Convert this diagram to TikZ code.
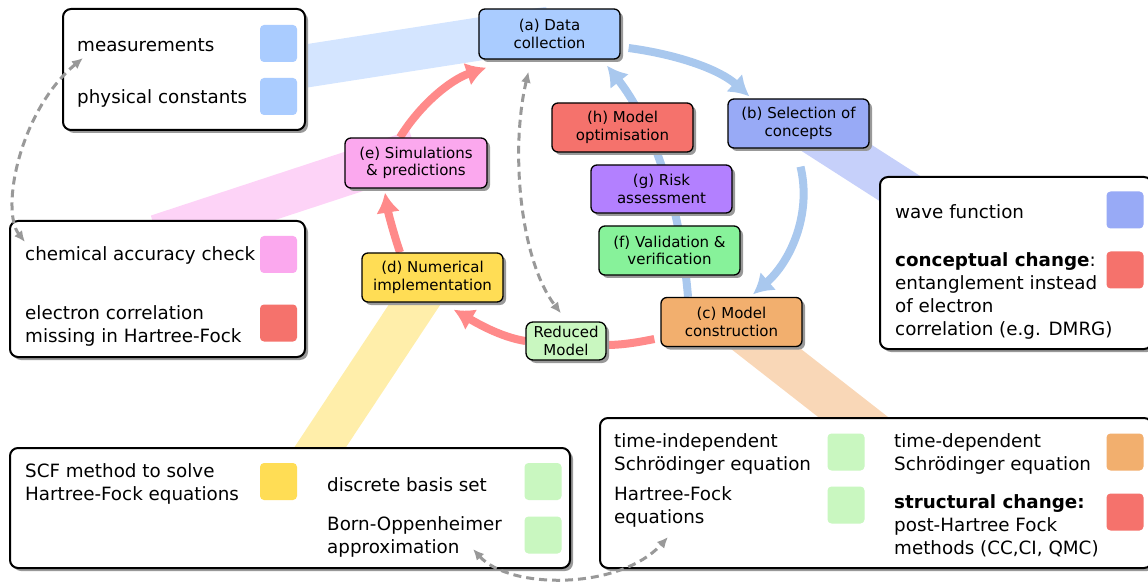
\documentclass[tikz,border=0pt]{standalone}
\usepackage{fontspec}
\setmainfont{DejaVu Sans}
\usetikzlibrary{arrows.meta,calc,shadows,backgrounds}

\definecolor{dataC}{HTML}{AACCFF}
\definecolor{selC}{HTML}{98AAF6}
\definecolor{optC}{HTML}{F5726C}
\definecolor{riskC}{HTML}{B380FF}
\definecolor{valC}{HTML}{87F29A}
\definecolor{consC}{HTML}{F2AF6E}
\definecolor{numC}{HTML}{FFDD55}
\definecolor{simC}{HTML}{FBA8EE}
\definecolor{redC}{HTML}{C9F7C0}
\definecolor{blueArr}{HTML}{A9C8EE}
\definecolor{redArr}{HTML}{FF8A8A}
\definecolor{linkC}{HTML}{999999}

\newcommand\stagefont{\fontsize{15}{17.5}\selectfont}
\newcommand\legfont{\fontsize{18.3}{23}\selectfont}

\begin{document}
\begin{tikzpicture}[x=1pt,y=-1pt,
  shade/.style={drop shadow={shadow xshift=3pt,shadow yshift=-3pt,fill=black!40,opacity=1}},
  stage/.style={draw,line width=1.3pt,rounded corners=6pt,minimum width=141pt,minimum height=49pt,align=center,inner sep=1pt,font=\stagefont,shade},
  legbox/.style={draw,line width=2pt,rounded corners=8pt,fill=white,inner sep=0pt,shade},
  legtext/.style={anchor=west,align=left,inner sep=0pt,font=\legfont,yshift=-2pt},
  swatch/.style={rounded corners=4pt,minimum size=37pt,inner sep=0pt},
  band/.style={line width=43pt},
  cyc/.style={line width=8pt,-{Latex[length=20pt,width=24pt]}},
  link/.style={linkC,line width=3pt,dash pattern=on 8pt off 5pt,{Latex[length=11pt,width=10pt]}-{Latex[length=11pt,width=10pt]}}]
\useasboundingbox (0,0) rectangle (1148,585);

% legend boxes
\node[legbox,minimum width=242pt,minimum height=121pt] (databox) at (184,69.5) {};
\node[legtext] (meas) at (77,43) {measurements};
\node[legtext] (phys) at (77,96) {physical constants};
\node[swatch,fill=dataC] (sqmeas) at (278.5,43.5) {};
\node[swatch,fill=dataC] (sqphys) at (278.5,96.5) {};

\node[legbox,minimum width=295pt,minimum height=136pt] (accbox) at (157.5,289) {};
\node[legtext] (chem) at (25,253) {chemical accuracy check};
\node[legtext] (corr) at (25,324) {electron correlation\\missing in Hartree-Fock};
\node[swatch,fill=simC] (sqchem) at (278.5,254.5) {};
\node[swatch,fill=optC] (sqcorr) at (278.5,323) {};

\node[legbox,minimum width=272pt,minimum height=172pt] (wavebox) at (1016,263) {};
\node[legtext] (wave) at (895,210) {wave function};
\node[legtext] (conc) at (895,294) {\textbf{conceptual change}:\\entanglement instead\\of electron\\correlation (e.g. DMRG)};
\node[swatch,fill=selC] (sqwave) at (1125,210) {};
\node[swatch,fill=optC] (sqconc) at (1125,270) {};

\node[legbox,minimum width=560pt,minimum height=120pt] (numbox) at (290,508) {};
\node[legtext] (scf) at (25,482) {SCF method to solve\\Hartree-Fock equations};
\node[legtext] (disc) at (327,483) {discrete basis set};
\node[legtext] (born) at (327,535) {Born-Oppenheimer\\approximation};
\node[swatch,fill=numC] (sqscf) at (278.5,481.5) {};
\node[swatch,fill=redC] (sqdisc) at (543,481.5) {};
\node[swatch,fill=redC] (sqborn) at (543,535) {};

\node[legbox,minimum width=552pt,minimum height=150pt] (tdbox) at (876,493) {};
\node[legtext] (tind) at (614,452) {time-independent\\Schrödinger equation};
\node[legtext] (hf) at (614,505) {Hartree-Fock\\equations};
\node[legtext] (tdep) at (894,452) {time-dependent\\Schrödinger equation};
\node[legtext] (struct) at (894,524) {\textbf{structural change:}\\post-Hartree Fock\\methods (CC,CI, QMC)};
\node[swatch,fill=redC] (sqtind) at (846,452) {};
\node[swatch,fill=redC] (sqhf) at (846,505) {};
\node[swatch,fill=consC] (sqtdep) at (1125,452) {};
\node[swatch,fill=optC] (sqstruct) at (1125,512) {};

% modelling cycle
\node[stage,fill=dataC,minimum height=50pt] (data) at (549.5,34) {(a) Data\\collection};
\node[stage,fill=selC] (sel) at (798.5,123.5) {(b) Selection of\\concepts};
\node[stage,fill=optC] (opt) at (622.5,127.5) {(h) Model\\optimisation};
\node[stage,fill=riskC,minimum height=48pt] (risk) at (661.5,189) {(g) Risk\\assessment};
\node[stage,fill=valC] (val) at (669.5,250.5) {(f) Validation \&\\verification};
\node[stage,fill=consC] (cons) at (731.5,322) {(c) Model\\construction};
\node[stage,fill=numC] (num) at (432.5,277.5) {(d) Numerical\\implementation};
\node[stage,fill=simC,minimum width=142pt,minimum height=50pt] (sim) at (416,163) {(e) Simulations\\\& predictions};
\node[stage,fill=redC,minimum width=80pt,minimum height=38pt,rounded corners=7pt] (red) at (566,341) {Reduced\\Model};

\begin{scope}[on background layer]
\draw[band,dataC!50] ($(data.center)+(0,-6)$) -- ($(databox.center)+(0,15.5)$);
\draw[band,selC!55] (sel.center) -- (wavebox.center);
\draw[band,simC!50] ($(sim.center)+(0,-12)$) -- ($(accbox.north)+(0,16)$);
\draw[band,numC!50] (num.center) -- ($(numbox.center)+(-10,0)$);
\draw[band,consC!50] (cons.center) -- ($(cons.center)+(256,200)$);

\draw[cyc,blueArr] ($(data.east)+(8,14)$) .. controls (680,55) and (720,70) .. ($(sel.north west)+(22,-2)$);
\draw[cyc,blueArr] ($(sel.south)+(2,18)$) .. controls (812,215) and (790,262) .. ($(cons.north)+(21.5,-2.5)$);
\draw[cyc,blueArr] ($(cons.north)+(-43.5,0)$) .. controls (680,200) and (650,120) .. ($(data.south)+(57.5,6)$);

\draw[redArr,line width=8pt] ($(cons.west)+(-6,17)$) .. controls (635,343) and (620,345) .. ($(red.east)+(0,4)$);
\draw[cyc,redArr] (red.west) .. controls (500,337) and (475,322) .. ($(num.south east)+(-50,7)$);
\draw[cyc,redArr] ($(num.north)+(-32.5,0)$) .. controls (394,235) and (388,212) .. ($(sim.south)+(-31,4)$);
\draw[cyc,redArr] ($(sim.north)+(-16,0)$) .. controls (420,105) and (450,80) .. ($(data.south west)+(8,8)$);
\end{scope}

% cross references
\draw[link] ($(meas.west)+(6,13)$) .. controls (20,110) and (0,210) .. ($(chem.west)+(0,-13)$);
\draw[link] ($(data.south)+(-21,12)$) .. controls (510,150) and (520,260) .. ($(red.north)+(-5,-8)$);
\draw[link] ($(born.west)+(146,12)$) .. controls (510,590) and (620,590) .. ($(hf.west)+(54,30)$);
\end{tikzpicture}
\end{document}
